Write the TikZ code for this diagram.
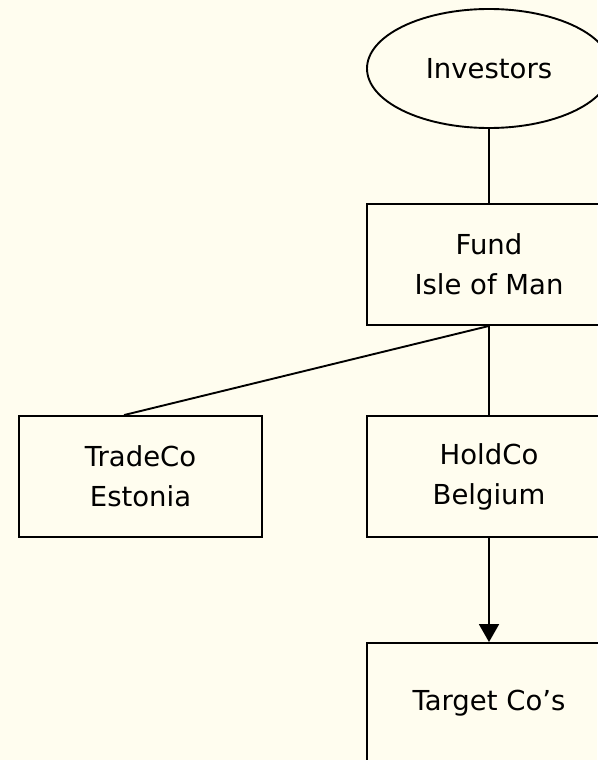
\documentclass[tikz,border=0pt]{standalone}
\usepackage{fontspec}
\setmainfont{DejaVu Sans}
\usetikzlibrary{shapes.geometric,arrows.meta,calc}
\definecolor{bgcream}{HTML}{FFFDEF}
\begin{document}
\begin{tikzpicture}[x=1pt,y=1pt,
  every node/.style={font=\fontsize{27.5}{40}\selectfont, align=center, inner sep=0pt},
  ent/.style={draw=black, line width=1.9pt, rectangle, minimum width=244pt, minimum height=121pt},
  oval/.style={draw=black, line width=1.9pt, ellipse, minimum width=244pt, minimum height=119pt},
  conn/.style={draw=black, line width=1.9pt}]
\fill[bgcream] (0,0) rectangle (597,-760);
\useasboundingbox (0,0) rectangle (597,-760);
\node[oval] (inv) at (489,-68.5) {Investors};
\node[ent] (fund) at (489,-264.5) {Fund\\Isle of Man};
\node[ent, minimum width=243pt] (trade) at (140.5,-476.5) {TradeCo\\Estonia};
\node[ent] (hold) at (489,-476.5) {HoldCo\\Belgium};
\node[ent] (target) at (489,-703.5) {Target Co’s};
\coordinate (tradetop) at ($(trade.north west)+(106,0)$);
\draw[conn] (inv.south) -- (fund.north);
\draw[conn] (fund.south) -- (hold.north);
\draw[conn] (fund.south) -- (tradetop);
\draw[conn, -{Triangle[width=20pt,length=18pt]}] (hold.south) -- (target.north);
\end{tikzpicture}
\end{document}
